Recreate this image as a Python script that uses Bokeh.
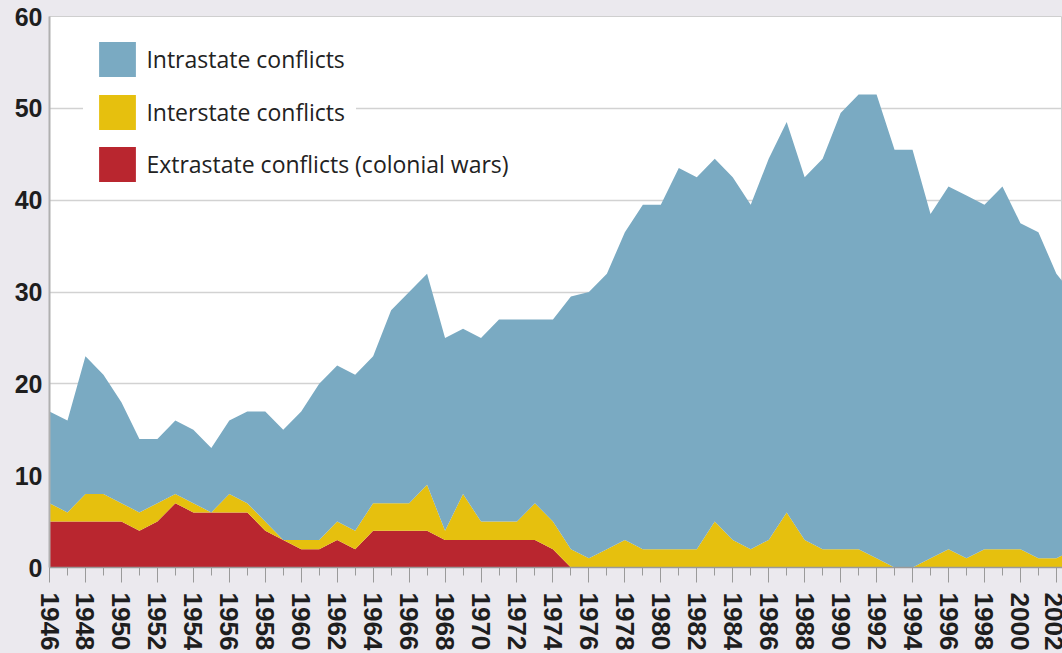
import math
from bokeh.plotting import figure
from bokeh.models import (ColumnDataSource, Range1d, FixedTicker, Legend, LegendItem)
from bokeh.embed import file_html
from bokeh.resources import INLINE

# ---------------- data ----------------
years = list(range(1946, 2004))

extrastate = [5, 5, 5, 5, 5, 4, 5, 7, 6, 6,
              6, 6, 4, 3, 2, 2, 3, 2, 4, 4,
              4, 4, 3, 3, 3, 3, 3, 3, 2, 0,
              0, 0, 0, 0, 0, 0, 0, 0, 0, 0,
              0, 0, 0, 0, 0, 0, 0, 0, 0, 0,
              0, 0, 0, 0, 0, 0, 0, 0]

interstate = [2, 1, 3, 3, 2, 2, 2, 1, 1, 0,
              2, 1, 1, 0, 1, 1, 2, 2, 3, 3,
              3, 5, 1, 5, 2, 2, 2, 4, 3, 2,
              1, 2, 3, 2, 2, 2, 2, 5, 3, 2,
              3, 6, 3, 2, 2, 2, 1, 0, 0, 1,
              2, 1, 2, 2, 2, 1, 1, 2]

intrastate = [10, 10, 15, 13, 11, 8, 7, 8, 8, 7,
              8, 10, 12, 12, 14, 17, 17, 17, 16, 21,
              23, 23, 21, 18, 20, 22, 22, 20, 22, 27.5,
              29, 30, 33.5, 37.5, 37.5, 41.5, 40.5, 39.5, 39.5, 37.5,
              41.5, 42.5, 39.5, 42.5, 47.5, 49.5, 50.5, 45.5, 45.5, 37.5,
              39.5, 39.5, 37.5, 39.5, 35.5, 35.5, 31, 27.5]

series_names = ["extrastate", "interstate", "intrastate"]
series_labels = ["Extrastate conflicts (colonial wars)", "Interstate conflicts", "Intrastate conflicts"]
series_colors = ["#b9262f", "#e6c00e", "#7aaac2"]

x_tick_years = list(range(1946, 2004, 2))
y_ticks = [0, 10, 20, 30, 40, 50, 60]

# ---------------- figure ----------------
BG = "#ebe9ee"
source = ColumnDataSource(dict(year=years, extrastate=extrastate,
                               interstate=interstate, intrastate=intrastate))

p = figure(width=1062, height=653, output_backend="svg", toolbar_location=None,
           x_range=Range1d(1946, 2002.34), y_range=Range1d(0, 60),
           min_border_left=49, min_border_right=0, min_border_top=16, min_border_bottom=86,
           background_fill_color="white", border_fill_color=BG,
           outline_line_color="#cfcfcf", outline_line_width=1)

renderers = p.varea_stack(series_names, x="year", color=series_colors, source=source)

# axes
xa = p.xaxis[0]
xa.ticker = FixedTicker(ticks=x_tick_years, minor_ticks=years)
xa.major_label_orientation = -math.pi / 2
xa.major_label_text_font = "Liberation Sans"
xa.major_label_text_font_style = "bold"
xa.major_label_text_font_size = "26px"
xa.major_label_text_color = "#1e1e1e"
xa.major_label_standoff = 10
xa.major_tick_out = 15
xa.major_tick_in = 0
xa.minor_tick_out = 8
xa.minor_tick_in = 0
xa.major_tick_line_color = "#9a9a9a"
xa.minor_tick_line_color = "#9a9a9a"
xa.axis_line_color = "#9a9a9a"
xa.axis_line_width = 1.5

ya = p.yaxis[0]
ya.ticker = FixedTicker(ticks=y_ticks)
ya.major_label_text_font = "Liberation Sans"
ya.major_label_text_font_style = "bold"
ya.major_label_text_font_size = "25px"
ya.major_label_text_color = "#1e1e1e"
ya.major_label_standoff = 7
ya.major_tick_out = 0
ya.major_tick_in = 0
ya.minor_tick_line_color = None
ya.axis_line_color = "#b0b0b0"
ya.axis_line_width = 2

p.xgrid.visible = False
p.ygrid.grid_line_color = "#d2d2d2"
p.ygrid.grid_line_width = 1.5

# legends: one box per entry so each white background hugs its own label
legend_bottoms = [370.4, 422.4, 475.4]  # screen px above frame bottom
for r, lab, vy in zip(renderers, series_labels, legend_bottoms):
    lg = Legend(items=[LegendItem(label=lab, renderers=[r])],
                location=(34.4, vy), margin=0, padding=10,
                glyph_width=46, glyph_height=44, label_height=44,
                label_standoff=6, spacing=0,
                label_text_font="Open Sans", label_text_font_size="23px",
                label_text_color="#222222",
                background_fill_color="white", background_fill_alpha=1.0,
                border_line_color="white", border_line_width=1)
    p.add_layout(lg)

html = file_html(p, INLINE)
html = html.replace("</head>", "<style>body{background:%s;}</style></head>" % BG, 1)
open("out.html", "w").write(html)
